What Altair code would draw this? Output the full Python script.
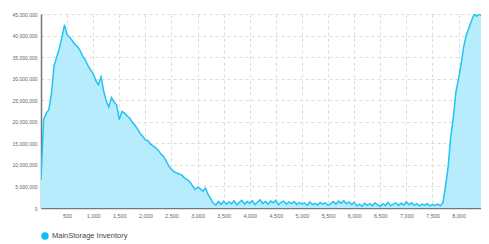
import altair as alt
import pandas as pd

# Inventory (millions) sampled every 50 hours
inventory_m = [
    6.5, 20.5, 22.0, 22.8, 26.5, 33.0, 35.0, 37.0, 39.5, 42.5,
    40.2, 39.6, 38.8, 38.0, 37.4, 36.5, 35.2, 34.3, 33.0, 32.0,
    31.2, 29.6, 28.6, 30.4, 27.2, 24.8, 23.4, 25.6, 24.6, 23.9,
    20.5, 22.4, 22.0, 21.4, 20.8, 19.9, 19.2, 18.3, 17.3, 16.6,
    15.8, 15.6, 14.8, 14.4, 13.9, 13.3, 12.5, 11.9, 10.9, 9.7,
    9.0, 8.4, 8.1, 7.9, 7.6, 7.0, 6.6, 6.1, 5.2, 4.3,
    4.8, 4.5, 3.9, 4.6, 3.2, 2.2, 1.1, 0.7, 1.5, 0.8,
    1.6, 0.9, 1.4, 1.0, 1.7, 0.8, 1.3, 1.8, 0.9, 1.5,
    1.1, 1.7, 0.8, 1.4, 1.9, 1.0, 1.5, 0.9, 1.6, 1.2,
    1.8, 0.8, 1.3, 1.6, 0.9, 1.4, 1.0, 1.5, 0.8, 1.3,
    0.9, 1.2, 0.6, 1.4, 0.8, 1.1, 0.7, 1.3, 0.9, 1.2,
    0.6, 1.0, 1.5, 0.9, 1.6, 1.1, 1.7, 1.0, 1.4, 0.8,
    1.3, 0.5, 0.9, 0.4, 1.1, 0.6, 1.0, 0.5, 1.2, 0.7,
    0.4, 1.0, 0.6, 1.3, 0.5, 0.9, 1.2, 0.6, 1.1, 0.7,
    1.4, 0.8, 1.2, 0.6, 1.0, 0.5, 0.9, 0.6, 1.0, 0.5,
    0.8, 0.6, 0.9, 0.5, 1.2, 5.0, 9.5, 16.5, 21.0, 27.0,
    30.0, 33.5, 37.5, 40.2, 41.8, 43.5, 45.0, 44.5, 45.0, 44.6,
    45.0, 44.5, 44.8,
]
hours = [i * 50 for i in range(len(inventory_m))]
series_name = "MainStorage Inventory"
x_ticks = [500, 1000, 1500, 2000, 2500, 3000, 3500, 4000, 4500,
           5000, 5500, 6000, 6500, 7000, 7500, 8000]
y_ticks = [0, 5e6, 10e6, 15e6, 20e6, 25e6, 30e6, 35e6, 40e6, 45e6]

df = pd.DataFrame({
    "hour": hours,
    "inventory": [v * 1e6 for v in inventory_m],
    "series": series_name,
})

FONT = "Liberation Sans"
LINE = "#22c3f3"
FILL = "#b6ecfc"

x = alt.X("hour:Q",
          scale=alt.Scale(domain=[0, 8430], nice=False, zero=False),
          axis=alt.Axis(values=x_ticks, format=",d", title=None,
                        labelFont=FONT, labelFontSize=5.5, labelColor="#666",
                        labelPadding=5, tickSize=0,
                        domainColor="#777", domainWidth=1.5,
                        grid=True, gridColor="#dcdcdc", gridDash=[3, 3],
                        gridWidth=1))
y = alt.Y("inventory:Q",
          scale=alt.Scale(domain=[0, 45e6], nice=False),
          axis=alt.Axis(values=y_ticks, format=",.0f", title=None,
                        labelFont=FONT, labelFontSize=5, labelColor="#666",
                        labelPadding=4, tickSize=0,
                        domainColor="#777", domainWidth=1.5,
                        grid=True, gridColor="#dcdcdc", gridDash=[3, 3],
                        gridWidth=1))

color = alt.Color("series:N",
                  scale=alt.Scale(domain=[series_name], range=[LINE]),
                  legend=alt.Legend(title=None, orient="none",
                                    legendX=0, legendY=218,
                                    symbolType="circle", symbolSize=55,
                                    symbolFillColor="#10bff2",
                                    symbolStrokeColor="#10bff2",
                                    symbolStrokeWidth=0,
                                    labelFont=FONT, labelFontSize=7.5,
                                    labelColor="#444", padding=0,
                                    labelOffset=3))

area = alt.Chart(df).mark_area(color=FILL, opacity=1, clip=True).encode(
    x=x, y=y)
line = alt.Chart(df).mark_line(strokeWidth=1.5, clip=True).encode(
    x=x, y=y, color=color)

chart = alt.layer(area, line).properties(
    width=440, height=194,
    autosize=alt.AutoSizeParams(type="none"),
    padding={"left": 33, "top": 6, "right": 0, "bottom": 36},
).configure_view(stroke=None)

chart.save("out.html", embed_options={"renderer": "svg", "actions": False})
